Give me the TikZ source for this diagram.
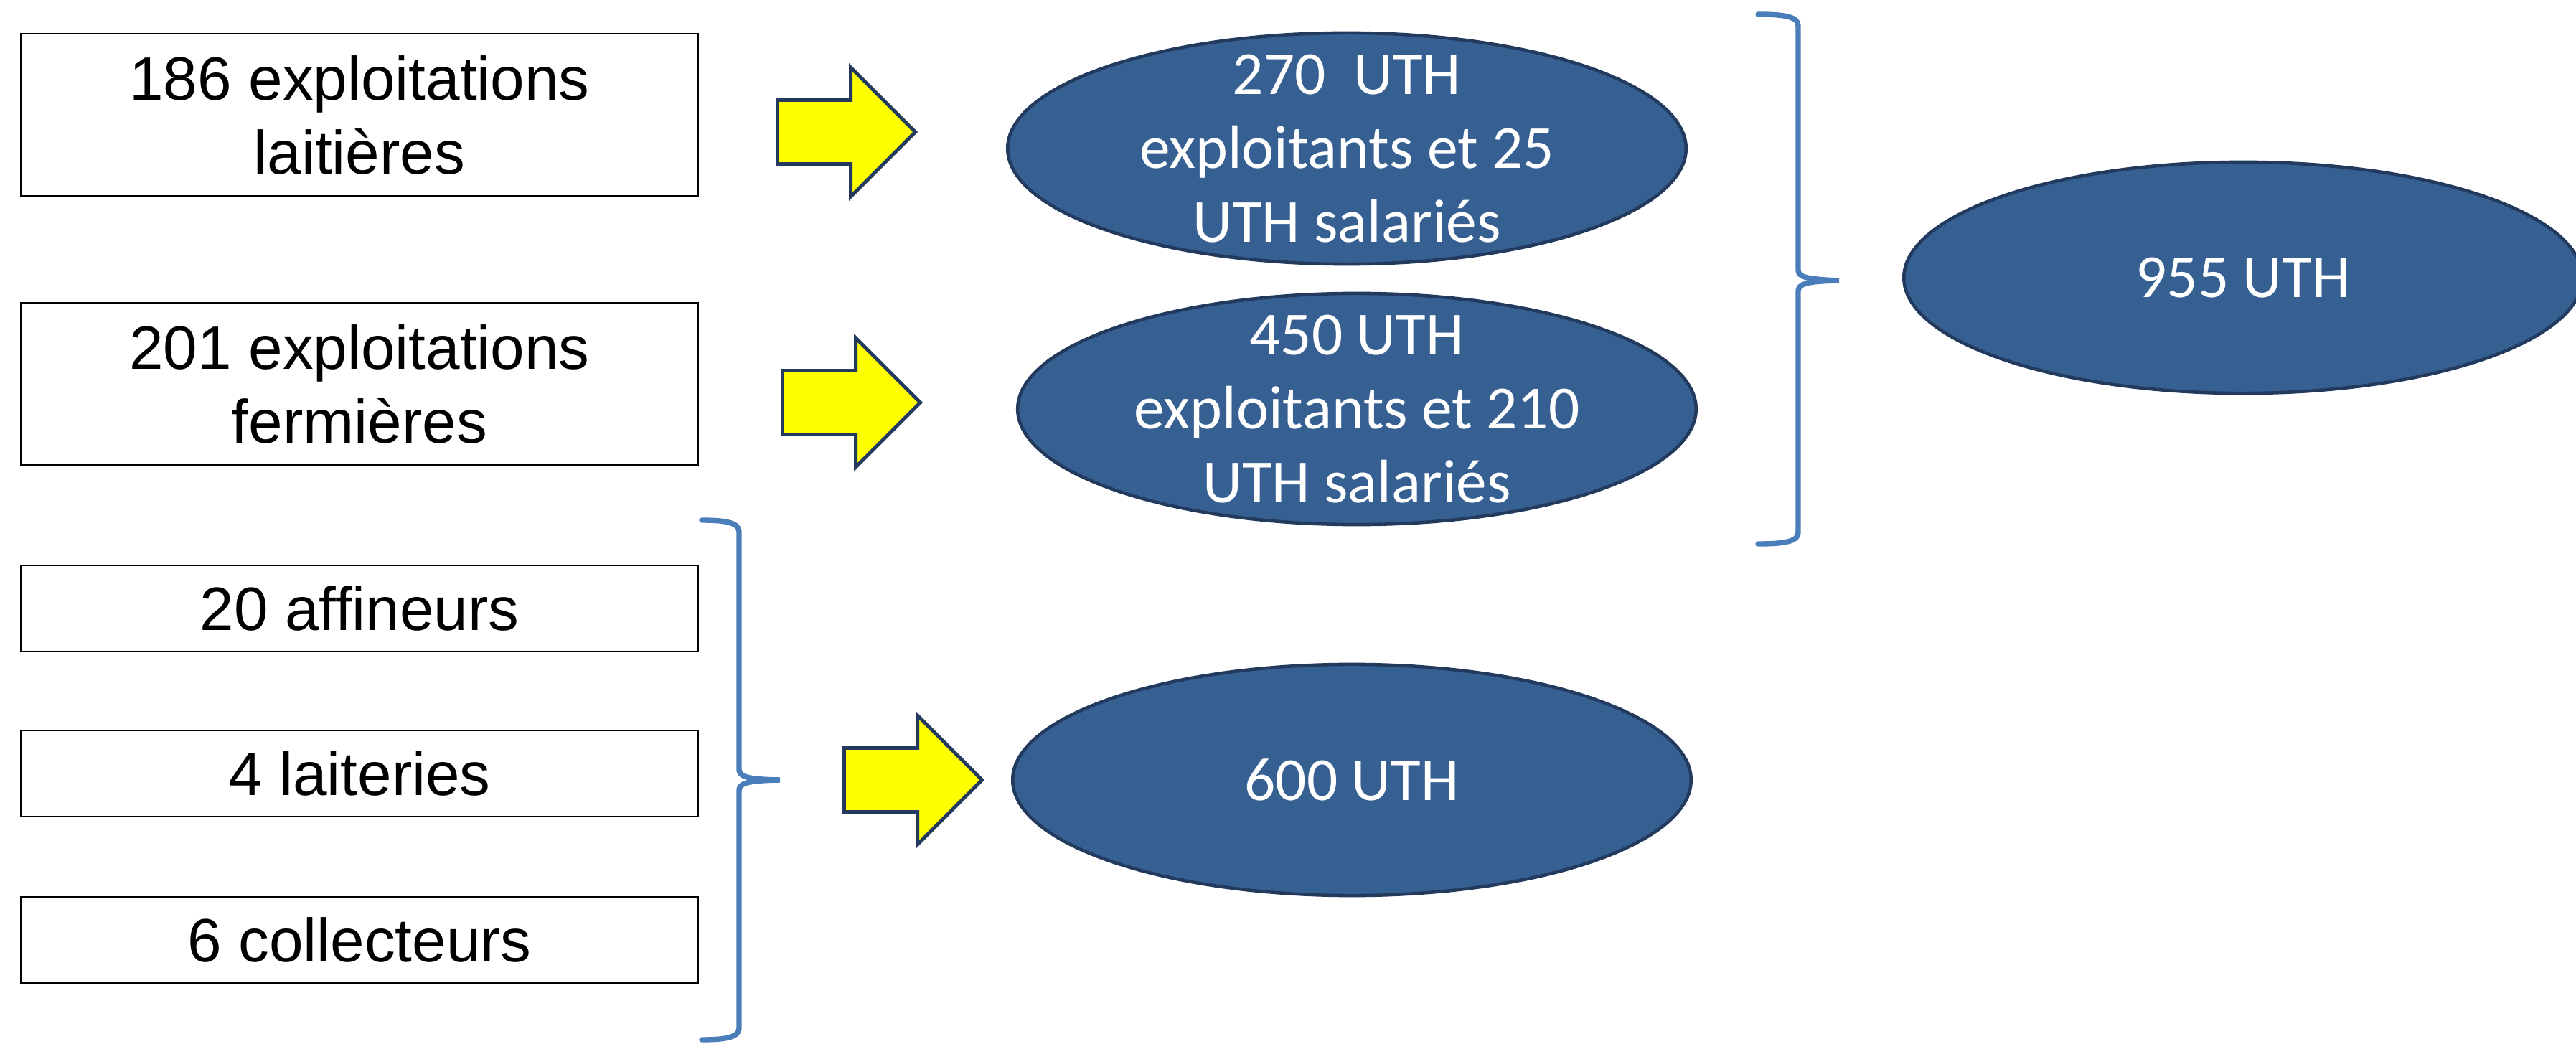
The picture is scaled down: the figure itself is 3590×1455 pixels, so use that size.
\documentclass[tikz,border=0pt]{standalone}
\usepackage{fontspec}
\setmainfont{Liberation Sans}
\newfontfamily\calibri{Carlito}
\usepackage{xcolor}
\usepackage{tikz}
\usetikzlibrary{shapes.geometric, shapes.arrows}

\definecolor{bleuellipse}{HTML}{376092}
\definecolor{bleufonce}{HTML}{223A5E}
\definecolor{bleuaccolade}{HTML}{4A7EBB}
\definecolor{jaune}{HTML}{FFFF00}

\begin{document}
\begin{tikzpicture}[
  x=0.01cm, y=-0.01cm,
  boite/.style={
    draw,
    rectangle,
    line width=0.7pt,
    align=center,
    font=\fontsize{24.3}{29.3}\selectfont,
    minimum width=9.43cm,
    minimum height=2.26cm
  },
  petiteboite/.style={boite, minimum height=1.2cm},
  bulle/.style={
    draw=bleufonce,
    fill=bleuellipse,
    ellipse,
    line width=1.3pt,
    inner xsep=0pt,
    inner ysep=-0.45cm,
    align=center,
    text=white,
    font=\calibri\fontsize{24.3}{29.2}\selectfont,
    minimum width=9.45cm,
    minimum height=3.22cm
  },
  fleche/.style={
    draw=bleufonce,
    fill=jaune,
    single arrow,
    line width=1.4pt,
    anchor=tail,
    inner xsep=0pt,
    inner ysep=0.42cm,
    single arrow head extend=0.455cm,
    minimum height=1.92cm
  },
  accolade/.style={draw=bleuaccolade, line width=2.1pt, line cap=round}
]
\useasboundingbox (0,0) rectangle (3590,1455);

% Exploitations et entreprises
\node[boite] (laitieres) at (501,160) {186 exploitations\\laitières};
\node[boite] (fermieres) at (501,535) {201 exploitations\\fermières};
\node[petiteboite] (affineurs) at (501,848) {20 affineurs};
\node[petiteboite] (laiteries) at (501,1078) {4 laiteries};
\node[petiteboite] (collecteurs) at (501,1310) {6 collecteurs};

% Emplois
\node[bulle] (uthlait) at (1877,207) {270\ \ UTH\\exploitants et 25\\UTH salariés};
\node[bulle] (uthferm) at (1891,570) {450 UTH\\exploitants et 210\\UTH salariés};
\node[bulle] (uthaval) at (1884,1087) {600 UTH};
\node[bulle] (uthtotal) at (3126,387) {955 UTH};

% Flèches
\node[fleche] (flait) at (1081,184) {};
\node[fleche] (fferm) at (1088,561) {};
\node[fleche] (faval) at (1174,1087) {};

% Accolades
\draw[accolade] (2450,20) .. controls (2490,20) and (2506,24) .. (2506,36)
  -- (2506,376) .. controls (2506,386) and (2516,389) .. (2563,391)
  .. controls (2516,392) and (2506,396) .. (2506,406)
  -- (2506,742) .. controls (2506,754) and (2490,758) .. (2450,758);
\draw[accolade] (978,725) .. controls (1013,725) and (1030,729) .. (1030,741)
  -- (1030,1072) .. controls (1030,1082) and (1039,1086) .. (1087,1087)
  .. controls (1039,1088) and (1030,1092) .. (1030,1102)
  -- (1030,1433) .. controls (1030,1445) and (1013,1449) .. (978,1449);

\end{tikzpicture}
\end{document}
